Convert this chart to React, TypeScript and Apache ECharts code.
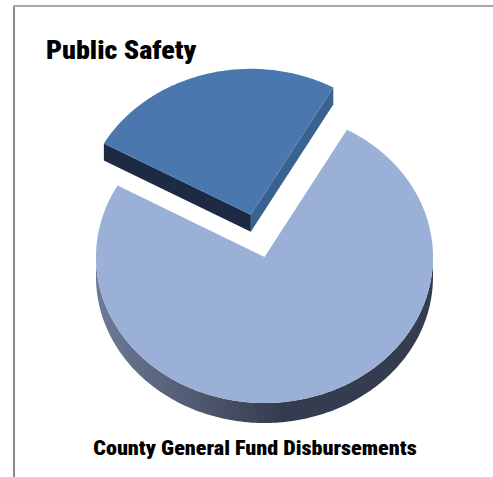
import React, { useEffect, useRef } from 'react';
import * as echarts from 'echarts';

// ---- data ----
const categories = ['Public Safety', 'All Other Disbursements'];
const values = [25, 75];
const chartTitle = 'Public Safety';
const chartSubtitle = 'County General Fund Disbursements';

// ---- styling / layout ----
const W = 493;
const H = 477;
const START_DEG = 60.7; // math angle (counter-clockwise) where first slice starts
const CX = 264.5;
const CY = 257;
const RX = 168.5;
const RY = 146;
const DEPTH = [17, 20];
const EXPLODE = [0.3, 0];
const TOP_COLORS = ['#4a78ae', '#9bb0d6'];
const WALL_START_COLORS = ['#3a6291', '#6f82a8'];
const WALL_END_COLORS = ['#1c2a44', '#46506a'];
const BAND_STOPS = [
  ['#2f4d75', '#1c2a44'],
  ['#6e7b98', '#363c4f'],
];
const FONT_STACK = '"Liberation Sans Narrow", "Arial Narrow", "Roboto Condensed", Roboto, "Liberation Sans", sans-serif';

function measure(text: string, font: string): number {
  const ctx = document.createElement('canvas').getContext('2d');
  if (!ctx) return 1;
  ctx.font = font;
  return ctx.measureText(text).width || 1;
}

const rad = (d: number) => (d * Math.PI) / 180;

export default function App() {
  const ref = useRef<HTMLDivElement>(null);

  useEffect(() => {
    if (!ref.current) return;
    const chart = echarts.init(ref.current, undefined, { renderer: 'svg' });
    const total = values.reduce((a, b) => a + b, 0);

    const titleFont = `900 25px ${FONT_STACK}`;
    const subFont = `900 21px ${FONT_STACK}`;
    const titleScale = 150.5 / measure(chartTitle, titleFont);
    const subScale = 323.5 / measure(chartSubtitle, subFont);

    const renderItem = (params: any, api: any) => {
      const i = params.dataIndex;
      let before = 0;
      for (let k = 0; k < i; k++) before += values[k];
      const a1 = START_DEG + (before / total) * 360;
      const a2 = a1 + (api.value(0) / total) * 360;
      const mid = rad((a1 + a2) / 2);
      const e = EXPLODE[i];
      const cx = CX + e * RX * Math.cos(mid);
      const cy = CY - e * RY * Math.sin(mid);
      const d = DEPTH[i];
      const P = (deg: number, dy = 0) => [cx + RX * Math.cos(rad(deg)), cy - RY * Math.sin(rad(deg)) + dy];
      const arc = (lo: number, hi: number, dy = 0) => {
        const pts: number[][] = [];
        const n = Math.max(2, Math.ceil(hi - lo));
        for (let s = 0; s <= n; s++) pts.push(P(lo + ((hi - lo) * s) / n, dy));
        return pts;
      };
      const children: any[] = [];
      // outer side band (front-facing arc)
      for (const k of [180, 540]) {
        const lo = Math.max(a1, k);
        const hi = Math.min(a2, k + 180);
        if (lo < hi) {
          const top = arc(lo, hi, 0);
          const bottom = arc(lo, hi, d).reverse();
          children.push({
            type: 'polygon',
            shape: { points: top.concat(bottom) },
            style: {
              fill: new echarts.graphic.LinearGradient(0, 0, 1, 0, [
                { offset: 0, color: BAND_STOPS[i][0] },
                { offset: 0.55, color: BAND_STOPS[i][1] },
                { offset: 1, color: BAND_STOPS[i][1] },
              ]),
            },
          });
        }
      }
      // radial walls
      const V = [cx, cy];
      const Vd = [cx, cy + d];
      if (Math.sin(rad(a1 - 90)) < 0) {
        const p = P(a1);
        children.push({
          type: 'polygon',
          shape: { points: [V, p, [p[0], p[1] + d], Vd] },
          style: { fill: WALL_START_COLORS[i] },
        });
      }
      if (Math.sin(rad(a2 + 90)) < 0) {
        const p = P(a2);
        children.push({
          type: 'polygon',
          shape: { points: [V, p, [p[0], p[1] + d], Vd] },
          style: { fill: WALL_END_COLORS[i] },
        });
      }
      // top face
      children.push({
        type: 'polygon',
        shape: { points: [V].concat(arc(a1, a2, 0)) },
        style: { fill: TOP_COLORS[i] },
      });
      return { type: 'group', children };
    };

    chart.setOption({
      animation: false,
      backgroundColor: '#ffffff',
      series: [
        {
          type: 'custom',
          coordinateSystem: 'none',
          silent: true,
          data: categories.map((name, idx) => ({ name, value: [values[idx]] })),
          renderItem,
        },
      ],
      graphic: [
        {
          type: 'line',
          shape: { x1: 14, y1: 6, x2: 14, y2: H },
          style: { stroke: '#8a8a8a', lineWidth: 2 },
          silent: true,
        },
        {
          type: 'line',
          shape: { x1: 13, y1: 6, x2: W, y2: 6 },
          style: { stroke: '#a8a8a8', lineWidth: 2 },
          silent: true,
        },
        {
          type: 'text',
          x: 46,
          y: 50,
          scaleX: titleScale,
          style: {
            text: chartTitle,
            x: 0,
            y: 0,
            font: titleFont,
            fill: '#000000',
            textAlign: 'left',
            textVerticalAlign: 'middle',
          },
          silent: true,
        },
        {
          type: 'text',
          x: 255,
          y: 447.5,
          scaleX: subScale,
          style: {
            text: chartSubtitle,
            x: 0,
            y: 0,
            font: subFont,
            fill: '#000000',
            textAlign: 'center',
            textVerticalAlign: 'middle',
          },
          silent: true,
        },
      ],
    });

    return () => {
      chart.dispose();
    };
  }, []);

  return (
    <div
      ref={ref}
      style={{ position: 'absolute', left: 0, top: 0, width: W, height: H, background: '#ffffff' }}
    />
  );
}
